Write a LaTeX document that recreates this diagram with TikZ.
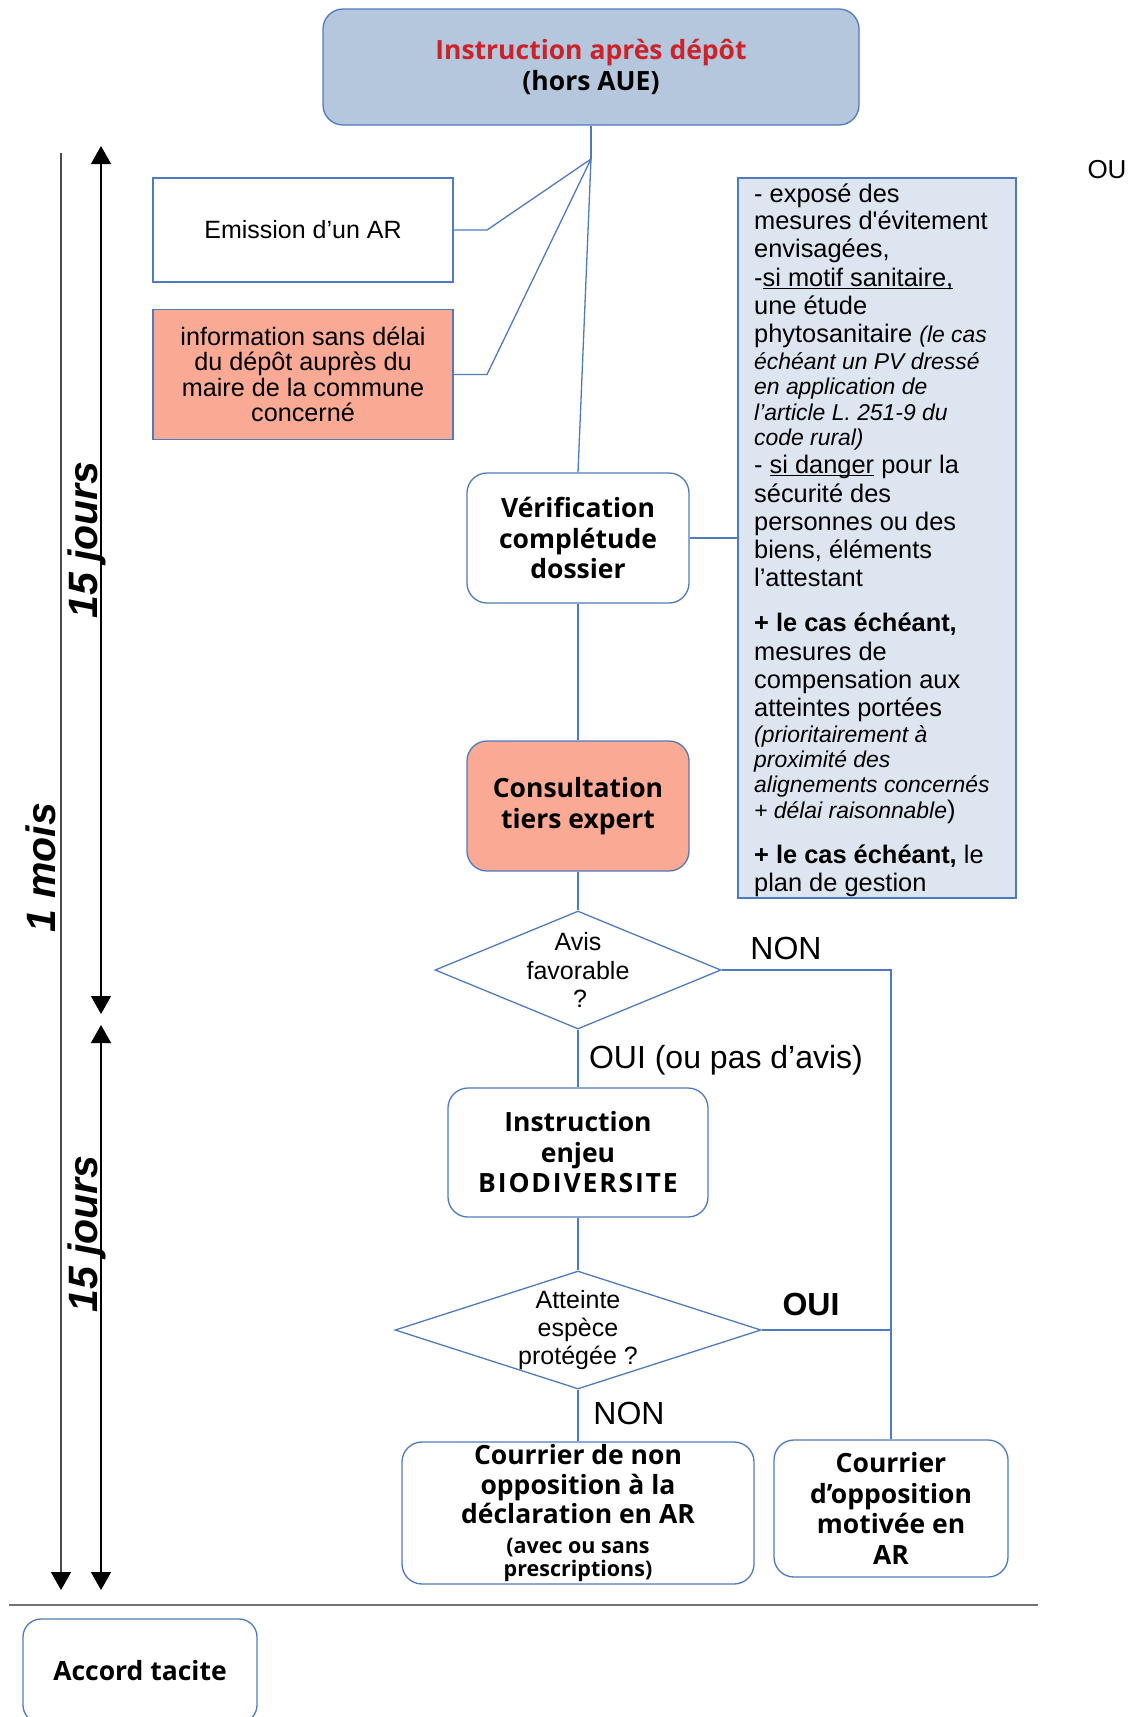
\documentclass[tikz,border=0pt]{standalone}
\usepackage{fontspec}
\setmainfont{Liberation Sans}
\newfontfamily\mar{Open Sans}
\usetikzlibrary{shapes.geometric,arrows.meta}
\definecolor{bcol}{RGB}{79,122,190}
\definecolor{topfill}{RGB}{181,199,221}
\definecolor{salmon}{RGB}{250,170,148}
\definecolor{notefill}{RGB}{221,230,240}
\definecolor{redt}{RGB}{204,35,42}
\newcommand\myreg{\fontsize{25.4}{28}\selectfont}
\newcommand\myit{\itshape\fontsize{22.9}{26}\selectfont}
\newcommand\mysmall{\fontsize{21.5}{24}\selectfont}
\newcommand\myul[1]{\underline{\smash{#1}}}
\begin{document}
\begin{tikzpicture}[x=1pt,y=1pt,
  box/.style={draw=bcol, line width=1.3pt, inner sep=0pt, align=center},
  rbox/.style={box, rounded corners=20pt},
  conn/.style={draw=bcol, line width=1.3pt},
  btext/.style={font=\mar\bfseries\fontsize{26.5}{30.5}\selectfont},
  lbl/.style={font=\fontsize{32}{34}\selectfont, inner sep=0pt},
  dia/.style={diamond, draw=bcol, line width=1.3pt, inner sep=0pt},
  timeline/.style={line width=1.3pt, -{Triangle[width=20pt,length=18pt,color=black,fill=black]}},
  both/.style={line width=1.3pt, {Triangle[width=20pt,length=18pt]}-{Triangle[width=20pt,length=18pt]}},
  dur/.style={rotate=90, anchor=base, inner sep=0pt, font=\bfseries\itshape\fontsize{41}{41}\selectfont}
]
\useasboundingbox (0,0) rectangle (1133,-1717);

% top
\node[rbox, fill=topfill, minimum width=536, minimum height=116, btext] (top) at (591,-67)
  {\color{redt}Instruction après dépôt\\(hors AUE)};
\node[font=\fontsize{26}{28}\selectfont, inner sep=0pt] (ou) at (1107,-170) {OU};

% left boxes
\node[box, fill=white, minimum width=300, minimum height=104, font=\fontsize{25}{27}\selectfont] (emis) at (303,-230) {Emission d’un AR};
\node[box, fill=salmon, minimum width=300, minimum height=130, font=\fontsize{25.2}{25.5}\selectfont] (info) at (303,-374.5)
  {information sans délai\\du dépôt auprès du\\maire de la commune\\concerné};

\coordinate (hub) at (591,-159);
\coordinate (e1) at (487,-230);
\coordinate (e2) at (487,-374.5);

% main column
\node[rbox, fill=white, minimum width=222, minimum height=130, btext] (verif) at (578,-538) {Vérification\\complétude\\dossier};
\node[rbox, fill=salmon, minimum width=222, minimum height=130, btext] (consult) at (578,-806) {Consultation\\tiers expert};

% note box
\node[box, fill=notefill, minimum width=278, minimum height=720] (note) at (877,-538) {};
\foreach \yy/\txt [count=\i] in {
  202/{- exposé des},
  229.5/{mesures d\textquotesingle évitement},
  257.5/{envisagées,},
  286.5/{-\myul{si motif sanitaire,}},
  314.5/{une étude},
  342.5/{phytosanitaire {\myit(le cas}},
  369/{\myit échéant un PV dressé},
  394/{\myit en application de},
  420/{\myit l’article L. 251-9 du},
  445.5/{\myit code rural)},
  473.5/{- \myul{si danger} pour la},
  502/{sécurité des},
  530/{personnes ou des},
  558.5/{biens, éléments},
  586.5/{l’attestant},
  631.5/{\bfseries + le cas échéant,},
  660/{mesures de},
  688/{compensation aux},
  716.5/{atteintes portées},
  742.5/{\myit (prioritairement à},
  767.5/{\myit proximité des},
  792.5/{\myit alignements concernés},
  818.5/{{\myit + délai raisonnable})},
  863.5/{{\bfseries + le cas échéant,} le},
  891.5/{plan de gestion}}
  \node[anchor=base west, inner sep=0pt, font=\myreg] (nl\i) at (754,-\yy) {\txt};

% decisions
\node[dia, minimum width=286, minimum height=118] (avis) at (578,-970) {};
\node[align=center, inner sep=0pt, font=\fontsize{25}{28.5}\selectfont] (avist) at (578,-970) {Avis\\favorable\\\hspace*{4pt}?};
\node[rbox, fill=white, minimum width=260, minimum height=129, btext] (instr) at (578,-1152.5) {Instruction\\enjeu\\\addfontfeature{LetterSpace=7}BIODIVERSITE};
\node[dia, minimum width=366, minimum height=118] (att) at (578,-1330) {};
\node[align=center, inner sep=0pt, font=\fontsize{25}{28}\selectfont] (attt) at (578,-1330) {Atteinte\\espèce\\protégée ?};

\node[rbox, fill=white, minimum width=352, minimum height=142, font=\mar\bfseries\fontsize{26.5}{29.5}\selectfont] (cnon) at (578,-1513)
  {Courrier de non\\opposition à la\\déclaration en AR\\\mysmall (avec ou sans\\[-6pt]\mysmall prescriptions)};
\node[rbox, fill=white, minimum width=234, minimum height=137, btext] (opp) at (891,-1508.5) {Courrier\\d’opposition\\motivée en\\AR};

% labels
\node[lbl] (non1) at (786,-948) {NON};
\node[lbl] (oui1) at (726,-1060) {OUI (ou pas d’avis)};
\node[lbl, font=\bfseries\fontsize{32}{34}\selectfont] (oui2) at (811,-1304) {OUI};
\node[lbl] (non2) at (629,-1413) {NON};

% connectors
\draw[conn] (top.south) -- (hub);
\draw[conn] (hub) -- (e1) -- (emis.east);
\draw[conn] (hub) -- (e2) -- (info.east);
\draw[conn] (hub) -- (verif.north);
\draw[conn] (verif.east) -- (note.west |- verif.east);
\draw[conn] (verif.south) -- (consult.north);
\draw[conn] (consult.south) -- (avis.north);
\draw[conn] (avis.south) -- (instr.north);
\draw[conn] (instr.south) -- (att.north);
\draw[conn] (att.south) -- (cnon.north);
\draw[conn] (avis.east) -| (opp.north);
\draw[conn] (att.east) -- (opp.north |- att.east);

% time scale
\coordinate (m0) at (61,-153);
\coordinate (m1) at (61,-1590);
\coordinate (a0) at (101,-146);
\coordinate (a1) at (101,-1014);
\coordinate (b0) at (101,-1025);
\coordinate (b1) at (101,-1590);
\draw[timeline, draw=black!70] (m0) -- (m1);
\draw[both] (a0) -- (a1);
\draw[both] (b0) -- (b1);
\node[dur] (mois) at (55,-868) {1 mois};
\node[dur] (j1) at (97,-540) {15 jours};
\node[dur] (j2) at (97,-1234) {15 jours};

\coordinate (s0) at (9,-1605);
\coordinate (s1) at (1038,-1605);
\draw[line width=1.3pt, draw=black!55] (s0) -- (s1);

\node[rbox, fill=white, minimum width=234, minimum height=104, btext, rounded corners=18pt] (accord) at (140,-1671) {Accord tacite};
\end{tikzpicture}
\end{document}
